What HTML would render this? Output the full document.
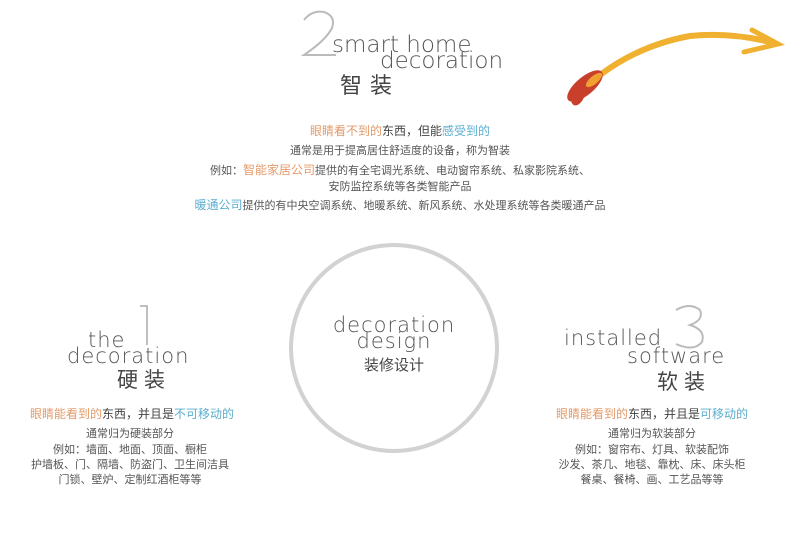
<!DOCTYPE html>
<html><head><meta charset="utf-8"><style>
body{margin:0;width:800px;height:549px;background:#fff;position:relative;overflow:hidden;font-family:"Liberation Sans","Noto Sans CJK SC",sans-serif;color:#444}
.a{position:absolute;white-space:nowrap;line-height:1}
.e{font-family:"DejaVu Sans","Liberation Sans",sans-serif;font-weight:200;color:#555;letter-spacing:1px}
.o{color:#e39a6a}.b{color:#5aaed0}
.c{text-align:center}
.s{font-size:11px;color:#555}
.h{font-size:12px}
</style></head><body>
<svg width="800" height="549" style="position:absolute;left:0;top:0">
<circle cx="394" cy="348" r="103" fill="none" stroke="#d2d2d2" stroke-width="4"/>
<path d="M304 20 Q312 10 324 12 Q336 16 332 28 Q326 40 304 55 L336 55" fill="none" stroke="#bbb" stroke-width="2"/>
<path d="M140 306 L147 306 L147 345" fill="none" stroke="#aaa" stroke-width="1.5"/>
<path d="M676 310 Q690 302 700 310 Q704 320 690 325 Q706 330 702 342 Q694 352 676 344" fill="none" stroke="#bbb" stroke-width="2"/>
<path d="M600 75 Q640 45 690 36 Q730 32 770 42" fill="none" stroke="#f0b030" stroke-width="6" stroke-linecap="round"/>
<path d="M752 30 L778 44 L744 52" fill="none" stroke="#f0b030" stroke-width="5" stroke-linecap="round"/>
<ellipse cx="585" cy="86" rx="22" ry="9" transform="rotate(-40 585 86)" fill="#c8402c"/>
<ellipse cx="578" cy="96" rx="10" ry="6" transform="rotate(-65 578 96)" fill="#c8402c"/>
<ellipse cx="594" cy="80" rx="10" ry="4" transform="rotate(-40 594 80)" fill="#f0a030"/>
</svg>
<div class="a e" style="left:332px;top:34px;font-size:23px;letter-spacing:0">smart home</div>
<div class="a e" style="left:380px;top:50px;font-size:23px;letter-spacing:0">decoration</div>
<div class="a" style="left:340px;top:75px;font-size:22px;letter-spacing:8px;color:#444">智装</div>
<div class="a c h" style="left:0;width:800px;top:125px"><span class="o">眼睛看不到的</span>东西，但能<span class="b">感受到的</span></div>
<div class="a c s" style="left:0;width:800px;top:146px">通常是用于提高居住舒适度的设备，称为智装</div>
<div class="a c s" style="left:0;width:800px;top:164px">例如：<span class="o" style="font-size:12px">智能家居公司</span>提供的有全宅调光系统、电动窗帘系统、私家影院系统、</div>
<div class="a c s" style="left:0;width:800px;top:182px">安防监控系统等各类智能产品</div>
<div class="a c s" style="left:0;width:800px;top:199px"><span class="b" style="font-size:12px">暖通公司</span>提供的有中央空调系统、地暖系统、新风系统、水处理系统等各类暖通产品</div>
<div class="a e c" style="left:294px;width:200px;top:315px;font-size:21px">decoration</div>
<div class="a e c" style="left:294px;width:200px;top:331px;font-size:21px">design</div>
<div class="a c" style="left:294px;width:200px;top:358px;font-size:15px">装修设计</div>
<div class="a e" style="left:88px;top:330px;font-size:21px">the</div>
<div class="a e" style="left:67px;top:346px;font-size:21px">decoration</div>
<div class="a" style="left:117px;top:370px;font-size:21px;letter-spacing:6px">硬装</div>
<div class="a c h" style="left:30px;width:200px;top:408px"><span class="o">眼睛能看到的</span>东西，并且是<span class="b">不可移动的</span></div>
<div class="a c s" style="left:30px;width:200px;top:429px">通常归为硬装部分</div>
<div class="a c s" style="left:30px;width:200px;top:445px">例如：墙面、地面、顶面、橱柜</div>
<div class="a c s" style="left:30px;width:200px;top:460px">护墙板、门、隔墙、防盗门、卫生间洁具</div>
<div class="a c s" style="left:30px;width:200px;top:475px">门锁、壁炉、定制红酒柜等等</div>
<div class="a e" style="left:564px;top:328px;font-size:21px">installed</div>
<div class="a e" style="left:627px;top:346px;font-size:21px">software</div>
<div class="a" style="left:657px;top:372px;font-size:21px;letter-spacing:6px">软装</div>
<div class="a c h" style="left:552px;width:200px;top:408px"><span class="o">眼睛能看到的</span>东西，并且是<span class="b">可移动的</span></div>
<div class="a c s" style="left:552px;width:200px;top:429px">通常归为软装部分</div>
<div class="a c s" style="left:552px;width:200px;top:445px">例如：窗帘布、灯具、软装配饰</div>
<div class="a c s" style="left:552px;width:200px;top:460px">沙发、茶几、地毯、靠枕、床、床头柜</div>
<div class="a c s" style="left:552px;width:200px;top:475px">餐桌、餐椅、画、工艺品等等</div>
</body></html>
